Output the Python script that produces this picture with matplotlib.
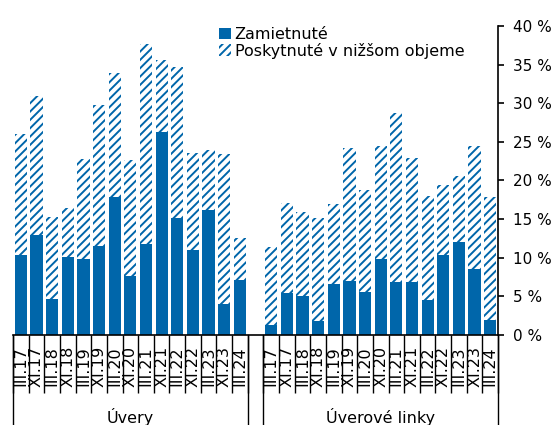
import matplotlib as mpl
mpl.use('Agg')
mpl.rcParams['font.family'] = 'DejaVu Sans'
mpl.rcParams['font.size'] = 11.5
mpl.rcParams['hatch.linewidth'] = 1.4

import numpy as np
import matplotlib.pyplot as plt
import matplotlib.ticker as ticker

# obdobia (rovnake pre obe skupiny)
obdobia = ['III.17', 'XI.17', 'III.18', 'XI.18', 'III.19', 'XI.19', 'III.20', 'XI.20',
           'III.21', 'XI.21', 'III.22', 'XI.22', 'III.23', 'XI.23', 'III.24']
skupiny = ['Úvery', 'Úverové linky']

# Uvery - spolu a zamietnute (%)
uvery_spolu = [26.0, 30.9, 15.3, 16.5, 22.8, 29.8, 33.9, 22.6, 37.7, 35.6, 34.7, 23.5, 23.9, 23.4, 12.6]
uvery_zam = [10.3, 13.0, 4.6, 10.1, 9.9, 11.5, 17.9, 7.6, 11.8, 26.3, 15.2, 11.0, 16.2, 4.0, 7.1]

# Uverove linky - spolu a zamietnute (%)
linky_spolu = [11.4, 17.1, 15.9, 15.2, 16.9, 24.2, 18.8, 24.5, 28.7, 22.9, 18.0, 19.4, 20.6, 24.5, 17.9]
linky_zam = [1.3, 5.4, 5.1, 1.8, 6.6, 7.0, 5.6, 9.9, 6.9, 6.8, 4.5, 10.4, 12.1, 8.6, 2.0]

yticks = [0, 5, 10, 15, 20, 25, 30, 35, 40]

modra = '#0066aa'

fig = plt.figure(figsize=(5.55, 4.25), dpi=100)
ax = fig.add_axes([0.0234, 0.2118, 0.874, 0.727])

n = len(obdobia)
x1 = np.arange(n)
x2 = np.arange(n) + n + 1

zam = np.array(uvery_zam + linky_zam)
spolu = np.array(uvery_spolu + linky_spolu)
xx = np.concatenate([x1, x2])

ax.bar(xx, zam, width=0.78, color=modra, lw=0, label='Zamietnuté')
ax.bar(xx, spolu - zam, bottom=zam, width=0.78, color='white', edgecolor=modra,
       hatch='////', lw=0, label='Poskytnuté v nižšom objeme')

ax.set_xlim(-0.5, 2 * n + 0.5)
ax.set_ylim(0, 40)

# os y vpravo
ax.yaxis.tick_right()
ax.set_yticks(yticks)
ax.yaxis.set_major_formatter(ticker.FuncFormatter(lambda v, p: '%d %%' % v))
ax.tick_params(axis='y', direction='out', length=4, width=1.2, pad=7, labelsize=11)

for s in ['top', 'left']:
    ax.spines[s].set_visible(False)
ax.spines['right'].set_linewidth(1.2)
ax.spines['bottom'].set_linewidth(1.2)

# popisy obdobi
ax.set_xticks(xx)
ax.set_xticklabels(obdobia + obdobia, rotation=90, va='top', ha='center')
ax.tick_params(axis='x', length=0, pad=8)

# oddelovace kategorii pod osou
hranice = list(np.arange(n + 1) - 0.5) + list(np.arange(n + 1) + n + 0.5)
ax.set_xticks(hranice, minor=True)
ax.tick_params(axis='x', which='minor', direction='out', length=42, width=1.0)

for g in [-0.5, n - 0.5, n + 0.5, 2 * n + 0.5]:
    ax.axvline(g, ymin=-0.3, ymax=0, color='black', lw=1.0, clip_on=False)

trans = mpl.transforms.blended_transform_factory(ax.transData, ax.transAxes)
ax.text(x1.mean(), -0.265, skupiny[0], transform=trans, ha='center', va='center')
ax.text(x2.mean(), -0.265, skupiny[1], transform=trans, ha='center', va='center')

ax.legend(loc='upper left', bbox_to_anchor=(0.381, 0.955), bbox_transform=fig.transFigure,
          frameon=False, handlelength=0.75, handleheight=0.75, handletextpad=0.2,
          labelspacing=0.05, borderpad=0)

plt.savefig('out.png', dpi=100)
